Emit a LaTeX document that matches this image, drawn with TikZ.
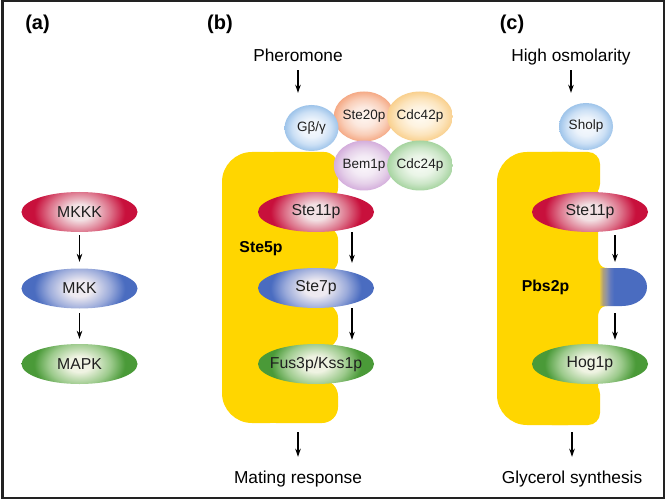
\documentclass[tikz,border=0pt]{standalone}
\usepackage{fontspec}
\setmainfont{Liberation Sans}
\usetikzlibrary{arrows.meta,shapes.geometric}

\definecolor{ygold}{HTML}{FFD600}
\definecolor{redE}{HTML}{C8103C}
\definecolor{redM}{HTML}{DC7088}
\definecolor{redC}{HTML}{F2E0E3}
\definecolor{bluE}{HTML}{4A6CC0}
\definecolor{bluM}{HTML}{9AAADA}
\definecolor{bluC}{HTML}{EEEAF1}
\definecolor{grnE}{HTML}{4A9A38}
\definecolor{grnM}{HTML}{9CCA8C}
\definecolor{grnC}{HTML}{EFF3E2}
\definecolor{frame}{HTML}{222222}

\pgfdeclareradialshading{redrad}{\pgfpointorigin}{color(0bp)=(redC); color(5bp)=(redC); color(13bp)=(redM); color(19bp)=(redE); color(25bp)=(redE); color(50bp)=(redE)}
\pgfdeclareradialshading{blurad}{\pgfpointorigin}{color(0bp)=(bluC); color(5bp)=(bluC); color(13bp)=(bluM); color(19bp)=(bluE); color(25bp)=(bluE); color(50bp)=(bluE)}
\pgfdeclareradialshading{grnrad}{\pgfpointorigin}{color(0bp)=(grnC); color(5bp)=(grnC); color(13bp)=(grnM); color(19bp)=(grnE); color(25bp)=(grnE); color(50bp)=(grnE)}

\pgfdeclareradialshading{gbsh}{\pgfpointorigin}{color(0bp)=(rgb,255:red,246;green,249;blue,253); color(10bp)=(rgb,255:red,236;green,243;blue,251); color(18bp)=(rgb,255:red,204;green,224;blue,245); color(25bp)=(rgb,255:red,158;green,196;blue,234); color(50bp)=(rgb,255:red,158;green,196;blue,234)}
\pgfdeclareradialshading{orsh}{\pgfpointorigin}{color(0bp)=(rgb,255:red,254;green,246;blue,241); color(10bp)=(rgb,255:red,252;green,232;blue,222); color(18bp)=(rgb,255:red,249;green,206;blue,184); color(25bp)=(rgb,255:red,245;green,170;blue,134); color(50bp)=(rgb,255:red,245;green,170;blue,134)}
\pgfdeclareradialshading{pesh}{\pgfpointorigin}{color(0bp)=(rgb,255:red,255;green,251;blue,243); color(10bp)=(rgb,255:red,254;green,243;blue,224); color(18bp)=(rgb,255:red,252;green,228;blue,188); color(25bp)=(rgb,255:red,249;green,208;blue,142); color(50bp)=(rgb,255:red,249;green,208;blue,142)}
\pgfdeclareradialshading{pusz}{\pgfpointorigin}{color(0bp)=(rgb,255:red,251;green,247;blue,251); color(10bp)=(rgb,255:red,243;green,234;blue,245); color(18bp)=(rgb,255:red,229;green,208;blue,233); color(25bp)=(rgb,255:red,212;green,174;blue,220); color(50bp)=(rgb,255:red,212;green,174;blue,220)}
\pgfdeclareradialshading{gnsh}{\pgfpointorigin}{color(0bp)=(rgb,255:red,247;green,251;blue,245); color(10bp)=(rgb,255:red,234;green,245;blue,231); color(18bp)=(rgb,255:red,204;green,230;blue,200); color(25bp)=(rgb,255:red,166;green,212;blue,160); color(50bp)=(rgb,255:red,166;green,212;blue,160)}

\pgfdeclarehorizontalshading{pbsdom}{100bp}{color(0bp)=(ygold); color(25bp)=(rgb,255:red,224;green,196;blue,70); color(28bp)=(rgb,255:red,176;green,160;blue,120); color(32bp)=(rgb,255:red,140;green,146;blue,168); color(36bp)=(rgb,255:red,96;green,120;blue,190); color(40bp)=(bluE); color(100bp)=(bluE)}

\tikzset{
  kin/.style={ellipse, minimum width=116bp, minimum height=40bp, inner xsep=-12bp, inner ysep=0pt,
    text=black!88, font=\fontsize{15.8bp}{18bp}\selectfont},
  redk/.style={kin, path picture={\shade[shading=redrad] (path picture bounding box.center) ellipse [x radius=60bp, y radius=40bp];}},
  bluk/.style={kin, path picture={\shade[shading=blurad] (path picture bounding box.center) ellipse [x radius=60bp, y radius=40bp];}},
  grnk/.style={kin, path picture={\shade[shading=grnrad] (path picture bounding box.center) ellipse [x radius=60bp, y radius=40bp];}},
  sph/.style={ellipse, minimum width=56bp, minimum height=50bp, inner sep=0pt,
    text=black!88, font=\fontsize{13.5bp}{15bp}\selectfont},
  arr/.style={-{Stealth[length=8bp,width=5.5bp]}, line width=1.1bp, black},
  lbl/.style={anchor=base, inner sep=0pt, font=\fontsize{17.3bp}{20bp}\selectfont},
  plbl/.style={anchor=base, inner sep=0pt, font=\bfseries\fontsize{20bp}{22bp}\selectfont},
  blbl/.style={anchor=base, inner sep=0pt, font=\bfseries\fontsize{15.8bp}{18bp}\selectfont},
  scaf/.style={fill=ygold},
}

\begin{document}
\begin{tikzpicture}[x=1bp, y=-1bp]
\useasboundingbox (0,0) rectangle (666,500);
\fill[white] (0,0) rectangle (666,500);
\draw[frame, line width=2bp] (2.5,1.5) rectangle (664.3,497.8);

% panel labels
\node[plbl] (pa) at (37.5,30) {(a)};
\node[plbl] (pb) at (220,30) {(b)};
\node[plbl] (pc) at (512,30) {(c)};

% ---------- (a)
\node[redk] (mkkk) at (79.5,212) {MKKK};
\node[bluk] (mkk) at (79.5,288.5) {MKK};
\node[grnk] (mapk) at (79.5,364) {MAPK};
\draw[arr, shorten <=3bp, shorten >=6.5bp] (mkkk.south) -- (mkk.north);
\draw[arr, shorten <=4.5bp, shorten >=5bp] (mkk.south) -- (mapk.north);

% ---------- (b)
\fill[scaf, rounded corners=30bp] (222,152) rectangle (300,423);
\fill[scaf, rounded corners=14bp] (260,152) rectangle (338,202);
\fill[scaf, rounded corners=14bp] (260,226) rectangle (338,274);
\fill[scaf, rounded corners=14bp] (260,304) rectangle (338,348);
\fill[scaf, rounded corners=16bp] (260,380) rectangle (338,423);

\node[redk] (ste11b) at (316,212) {Ste11p};
\node[bluk] (ste7b) at (316,288) {Ste7p};
\node[grnk] (fus) at (316,364) {Fus3p/Kss1p};
\node[blbl] (ste5) at (261,253) {Ste5p};

\node[sph, shading=orsh] (ste20) at (364,116.5) {Ste20p};
\node[sph, shading=pesh] (cdc42) at (420,116.5) {Cdc42p};
\node[sph, shading=pusz] (bem1) at (364,165.5) {Bem1p};
\node[sph, shading=gnsh] (cdc24) at (420,165.5) {Cdc24p};
\node[sph, shading=gbsh, minimum width=54bp, minimum height=46bp] (gbg) at (311.5,128) {Gβ/γ};

\node[lbl] (pher) at (298,62) {Pheromone};
\node[lbl] (mating) at (298,483) {Mating response};

\coordinate (xb) at (352,0);
\coordinate (ybotb) at (298,432);
\draw[arr, shorten <=8bp, shorten >=12bp] (pher.south) -- (pher.south |- gbg.north);
\draw[arr, shorten >=5bp] (ste11b.south -| xb) -- (ste7b.north -| xb);
\draw[arr, shorten >=4bp] (ste7b.south -| xb) -- (fus.north -| xb);
\draw[arr, shorten >=13.5bp] (ybotb) -- (mating.north);

% ---------- (c)
\fill[scaf, rounded corners=30bp] (497,152) rectangle (598,425);
\fill[scaf, rounded corners=12bp] (540,152) rectangle (600,196);
\fill[scaf, rounded corners=12bp] (540,382) rectangle (600,425);
\fill[scaf] (597,248) .. controls (597,262) and (600,268) .. (607,268) -- (607,306)
   .. controls (600,306) and (597,312) .. (597,326) -- cycle;
\shade[shading=pbsdom] (600,268) -- (622,268) .. controls (636,268) and (647,276) .. (647,287)
   .. controls (647,298) and (636,306) .. (622,306) -- (600,306) -- cycle;

\node[redk] (ste11c) at (590,212) {Ste11p};
\node[grnk] (hog) at (590,364) {Hog1p};
\node[blbl] (pbs) at (545.5,291.5) {Pbs2p};

\node[sph, shading=gbsh, minimum width=54bp, minimum height=47bp] (shol) at (586,126.5) {Sholp};

\node[lbl] (hosm) at (571,62) {High osmolarity};
\node[lbl] (glyc) at (572,483) {Glycerol synthesis};

\coordinate (xc) at (615,0);
\coordinate (dtop) at (615,268);
\coordinate (dbot) at (615,306);
\coordinate (ybotc) at (572,432);
\draw[arr, shorten <=4.4bp, shorten >=10bp] (hosm.south) -- (hosm.south |- shol.north);
\draw[arr, shorten <=3bp, shorten >=6bp] (ste11c.south -| xc) -- (dtop);
\draw[arr, shorten <=7bp, shorten >=4bp] (dbot) -- (hog.north -| xc);
\draw[arr, shorten >=13.5bp] (ybotc) -- (glyc.north);
\end{tikzpicture}
\end{document}
